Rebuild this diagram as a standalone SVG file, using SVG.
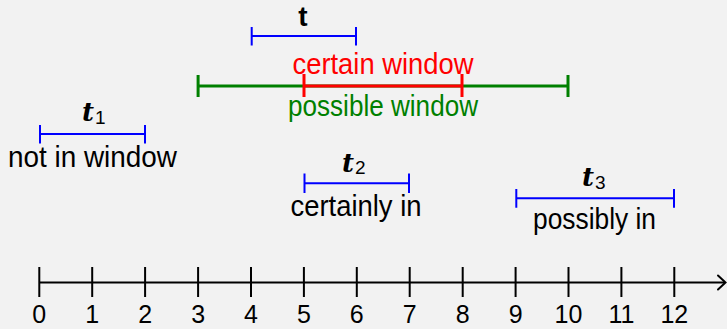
<svg xmlns="http://www.w3.org/2000/svg" width="727" height="329" viewBox="0 0 727 329">
<style>
.lbl{font-family:"Liberation Sans",Arial,sans-serif;font-size:29px;text-anchor:middle}
.num{font-family:"Liberation Sans",Arial,sans-serif;font-size:25px;text-anchor:middle;fill:#000}
.bi{font-family:"DejaVu Serif","Liberation Serif",serif;font-weight:bold;font-style:italic;font-size:26px;fill:#000}
.sub{font-family:"Liberation Sans",Arial,sans-serif;font-size:19px;fill:#000}
.blue{stroke:#0000ff;stroke-width:2;fill:none}
.ax{stroke:#000;stroke-width:2;fill:none}
</style>
<rect x="0" y="0" width="727" height="329" fill="#f2f2f2"/>
<g id="t">
<path class="blue" d="M251.7 36H356M251.7 27V45.5M356 27V45.5"/>
<text x="303" y="26" style="font-family:'Liberation Sans',Arial,sans-serif;font-weight:bold;font-size:28px;text-anchor:middle">t</text>
</g>
<g id="possible-window">
<path d="M198.1 86H568M198.1 75V97M568 75V97" stroke="#008000" stroke-width="3" fill="none"/>
<text class="lbl" x="383" y="116" fill="#008000" textLength="190" lengthAdjust="spacingAndGlyphs">possible window</text>
</g>
<g id="certain-window">
<path d="M304 86H462M304 74V97M462 74V97" stroke="#ff0000" stroke-width="3" fill="none"/>
<text class="lbl" x="383" y="74" fill="#ff0000" textLength="181" lengthAdjust="spacingAndGlyphs">certain window</text>
</g>
<g id="t1">
<path class="blue" d="M40 134H145M40 125V143.5M145 125V143.5"/>
<text class="bi" x="82" y="121">t</text>
<text class="sub" x="95" y="124">1</text>
<text class="lbl" x="92.5" y="166.7" fill="#000" textLength="169" lengthAdjust="spacingAndGlyphs">not in window</text>
</g>
<g id="t2">
<path class="blue" d="M304.5 183.3H409M304.5 173.5V193M409 173.5V193"/>
<text class="bi" x="342" y="171.5">t</text>
<text class="sub" x="355" y="174">2</text>
<text class="lbl" x="356" y="216" fill="#000" textLength="131" lengthAdjust="spacingAndGlyphs">certainly in</text>
</g>
<g id="t3">
<path class="blue" d="M516.3 198.3H674M516.3 189V207.7M674 189V207.7"/>
<text class="bi" x="582" y="186">t</text>
<text class="sub" x="595" y="189">3</text>
<text class="lbl" x="594.5" y="229.3" fill="#000" textLength="123" lengthAdjust="spacingAndGlyphs">possibly in</text>
</g>
<g id="connectors">
<path class="ax" d="M39.3 282.5H725"/>
<path class="ax" d="M718 275.5L725.5 282.5L718 289.5" stroke-linecap="round"/>
<path class="ax" d="M39.3 267V297M92.2 267V297M145.1 267V297M198.1 267V297M251 267V297M303.9 267V297M356.8 267V297M409.7 267V297M462.7 267V297M515.6 267V297M568.5 267V297M621.4 267V297M674.3 267V297"/>
</g>
<g id="axis-labels">
<text class="num" x="39.3" y="323">0</text>
<text class="num" x="92.2" y="323">1</text>
<text class="num" x="145.1" y="323">2</text>
<text class="num" x="198.1" y="323">3</text>
<text class="num" x="251" y="323">4</text>
<text class="num" x="303.9" y="323">5</text>
<text class="num" x="356.8" y="323">6</text>
<text class="num" x="409.7" y="323">7</text>
<text class="num" x="462.7" y="323">8</text>
<text class="num" x="515.6" y="323">9</text>
<text class="num" x="568.5" y="323">10</text>
<text class="num" x="621.4" y="323">11</text>
<text class="num" x="674.3" y="323">12</text>
</g>
</svg>
